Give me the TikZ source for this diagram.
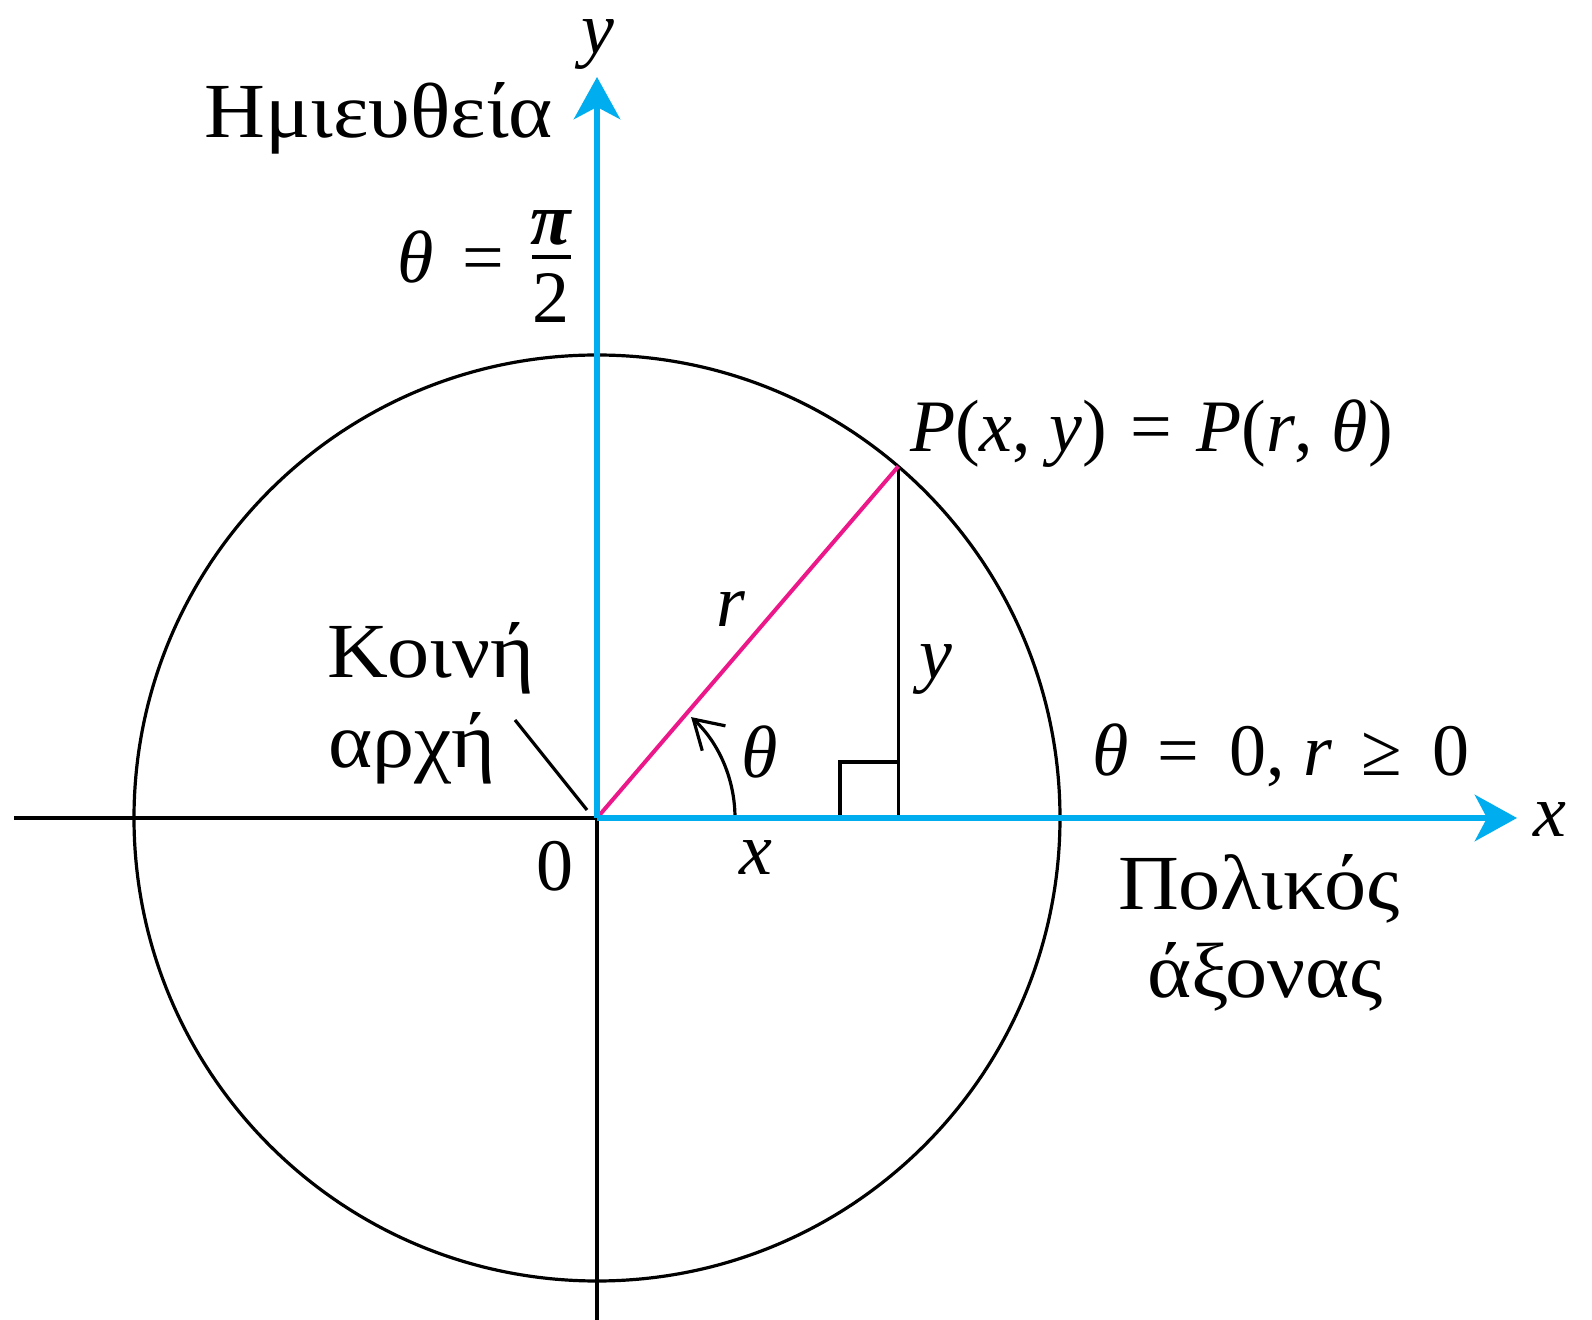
\documentclass[tikz,border=0pt]{standalone}
\usepackage{fontspec}
\setmainfont{Liberation Serif}
\newfontfamily\grkfont[FakeStretch=1.08]{Liberation Serif}
\usetikzlibrary{arrows.meta}
\definecolor{axblue}{RGB}{0,174,239}
\definecolor{rpink}{RGB}{236,24,138}
\tikzset{
  axis/.style={axblue,line width=3.4pt},
  axarrow/.style={axis,-{Stealth[length=21pt,width=23pt,inset=6pt]}},
  thin/.style={black,line width=1.6pt},
  lbl/.style={inner sep=0pt,outer sep=0pt,font=\fontsize{37}{44}\selectfont},
  grk/.style={inner sep=0pt,outer sep=0pt,font=\grkfont\fontsize{39}{46}\selectfont},
}
\newcommand{\eqs}{\hspace{0.32em}=\hspace{0.32em}}
\newcommand{\eqw}{\hspace{0.4em}=\hspace{0.4em}}
\newcommand{\geqw}{\hspace{0.4em}≥\hspace{0.4em}}
\begin{document}
\begin{tikzpicture}[x=0.5pt,y=-0.5pt]
\useasboundingbox (0,0) rectangle (1592,1320);
\coordinate (O) at (597,818);
\coordinate (ytip) at (597,77);
\coordinate (ybot) at (597,1320);
\coordinate (xtip) at (1517,818);
\coordinate (xleft) at (14,818);
\coordinate (P) at (898.3,466.4);
\coordinate (F) at (898.3,818);
\coordinate (ra1) at (840,818);
\coordinate (ra2) at (840,762);
\coordinate (ra3) at (898.3,762);
\coordinate (arcstart) at (735,818);
\coordinate (pl1) at (515,720);
\coordinate (pl2) at (587,810);
\coordinate (bar1) at (532,257);
\coordinate (bar2) at (571,257);
% circle and black parts
\draw[thin] (O) circle (463);
\draw[thin] (xleft) -- (O);
\draw[thin] (O) -- (ybot);
\draw[thin] (P) -- (F);
\draw[thin] (ra1) -- (ra2) -- (ra3);
\draw[thin] (pl1) -- (pl2);
\draw[thin,-{Straight Barb[length=14pt,width=17pt]}] (arcstart) arc[start angle=0,end angle=-47,radius=138];
% radius
\draw[rpink,line width=2pt] (O) -- (P);
% axes
\draw[axarrow] (O) -- (ytip);
\draw[axarrow] (O) -- (xtip);
% labels
\node[lbl] (ylab) at (598,45) {\textit{y}};
\node[lbl] (xlab) at (1550,820) {\textit{x}};
\node[grk,anchor=base east] (half) at (553,138) {Ημιευθεία};
\node[lbl,anchor=west] (th2) at (397,257) {\textit{θ}\eqw};
\node[lbl] (pinum) at (551,228) {\textbf{\textit{π}}};
\draw[thin] (bar1) -- (bar2);
\node[lbl] (piden) at (551,298) {2};
\node[grk,anchor=base west] (koi) at (327,678) {Κοινή};
\node[grk,anchor=base west] (arx) at (328,768) {αρχή};
\node[lbl] (rlab) at (731,609) {\textit{r}};
\node[lbl] (ylab2) at (936,670) {\textit{y}};
\node[lbl] (thlab) at (760,752) {\textit{θ}};
\node[lbl] (xlab2) at (756,858) {\textit{x}};
\node[lbl] (zero) at (555,866) {0};
\node[lbl,anchor=base west] (Plab) at (910,452) {\textit{P}(\textit{x}, \textit{y})\eqs\textit{P}(\textit{r}, \textit{θ})};
\node[lbl,anchor=base west] (th0) at (1092,776) {\textit{θ}\eqw 0, \textit{r}\geqw 0};
\node[grk,anchor=base west] (pol) at (1118,910) {Πολικός};
\node[grk,anchor=base west] (axon) at (1147,998) {άξονας};
\end{tikzpicture}
\end{document}
